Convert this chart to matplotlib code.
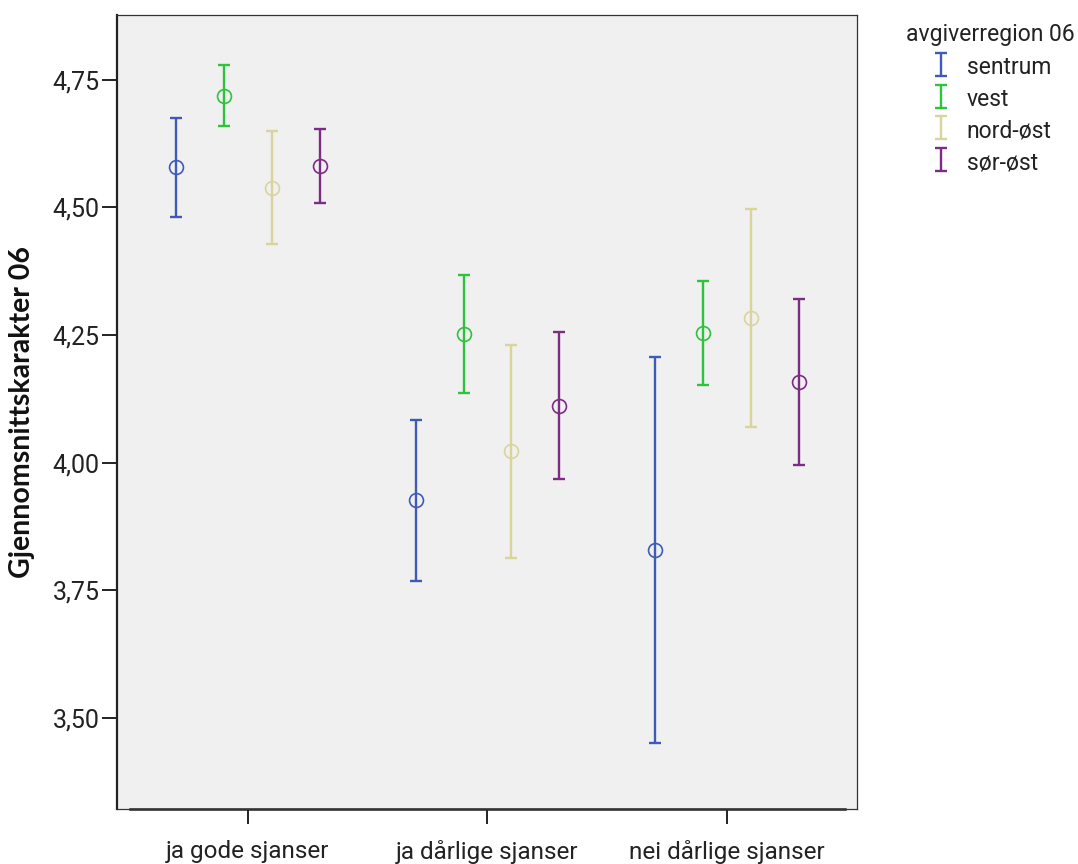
import matplotlib
matplotlib.use("Agg")
import matplotlib.pyplot as plt
from matplotlib.lines import Line2D

# data (mean and 95% CI per group)
categories = ["ja gode sjanser", "ja dårlige sjanser", "nei dårlige sjanser"]
regions = ["sentrum", "vest", "nord-øst", "sør-øst"]
colors = ["#3F5BB5", "#2EC23E", "#D9D49C", "#7D2C86"]

sentrum_mean = [4.580, 3.927, 3.829]
sentrum_low = [4.482, 3.768, 3.451]
sentrum_high = [4.676, 4.084, 4.207]

vest_mean = [4.719, 4.252, 4.254]
vest_low = [4.660, 4.137, 4.153]
vest_high = [4.779, 4.368, 4.356]

nordost_mean = [4.538, 4.023, 4.284]
nordost_low = [4.428, 3.813, 4.070]
nordost_high = [4.649, 4.231, 4.497]

sorost_mean = [4.581, 4.111, 4.158]
sorost_low = [4.508, 3.968, 3.996]
sorost_high = [4.654, 4.256, 4.321]

yticks = [3.50, 3.75, 4.00, 4.25, 4.50, 4.75]
ytick_labels = ["3,50", "3,75", "4,00", "4,25", "4,50", "4,75"]

series = [
    (sentrum_mean, sentrum_low, sentrum_high),
    (vest_mean, vest_low, vest_high),
    (nordost_mean, nordost_low, nordost_high),
    (sorost_mean, sorost_low, sorost_high),
]
offsets = [-0.3, -0.1, 0.1, 0.3]

plt.rcParams["font.family"] = ["Roboto", "DejaVu Sans"]
text_color = "#222222"

fig = plt.figure(figsize=(10.78, 8.64), dpi=100)
ax = fig.add_axes([0.1085, 0.0637, 0.6865, 0.9189])
ax.set_facecolor("#F0F0F0")

handles = []
for (mean, low, high), off, col, name in zip(series, offsets, colors, regions):
    xs = [i + off for i in range(len(categories))]
    err = [[m - l for m, l in zip(mean, low)], [h - m for m, h in zip(mean, high)]]
    cont = ax.errorbar(xs, mean, yerr=err, fmt="none", ecolor=col,
                       elinewidth=1.7, capsize=4.5, capthick=1.7, label=name)
    ax.plot(xs, mean, "o", mfc="none", mec=col, mew=1.2, ms=10)
    handles.append(cont)

ax.set_xlim(-0.547, 2.543)
ax.set_ylim(3.3217, 4.877)
ax.set_xticks(range(len(categories)))
ax.set_xticklabels(categories, fontsize=17.5, color=text_color)
ax.set_yticks(yticks)
ax.set_yticklabels(ytick_labels, fontsize=18, color=text_color)
ax.tick_params(axis="both", direction="out", length=11, width=1.4,
               color="#222222")
ax.tick_params(axis="x", pad=11)
ax.tick_params(axis="y", pad=1.5)

for side in ["top", "right", "bottom"]:
    ax.spines[side].set_linewidth(0.9)
    ax.spines[side].set_color("#333333")
ax.spines["left"].set_linewidth(1.6)
ax.spines["left"].set_color("#222222")
# thicker inset axis line along the bottom, like the original
ax.add_line(Line2D([0.0175, 0.984], [0, 0], transform=ax.transAxes,
                   color="#222222", lw=1.8, clip_on=False))

fig.text(0.020, 0.523, "Gjennomsnittskarakter 06", rotation=90,
         ha="center", va="center", fontsize=20.5, fontweight="bold",
         family=["Lato", "DejaVu Sans"], color="#111111")

fig.text(906 / 1078, 1 - 34 / 864, "avgiverregion 06", ha="left",
         va="center", fontsize=16.5, color=text_color)
leg = fig.legend(handles=handles, labels=regions, loc="upper left",
                 bbox_to_anchor=(930 / 1078, 1 - 55 / 864), frameon=False,
                 fontsize=16.5, handlelength=1.0, handleheight=1.2,
                 handletextpad=0.6, labelspacing=0.31, borderpad=0,
                 borderaxespad=0)
for t in leg.get_texts():
    t.set_color(text_color)

fig.savefig("out.png", dpi=100)
